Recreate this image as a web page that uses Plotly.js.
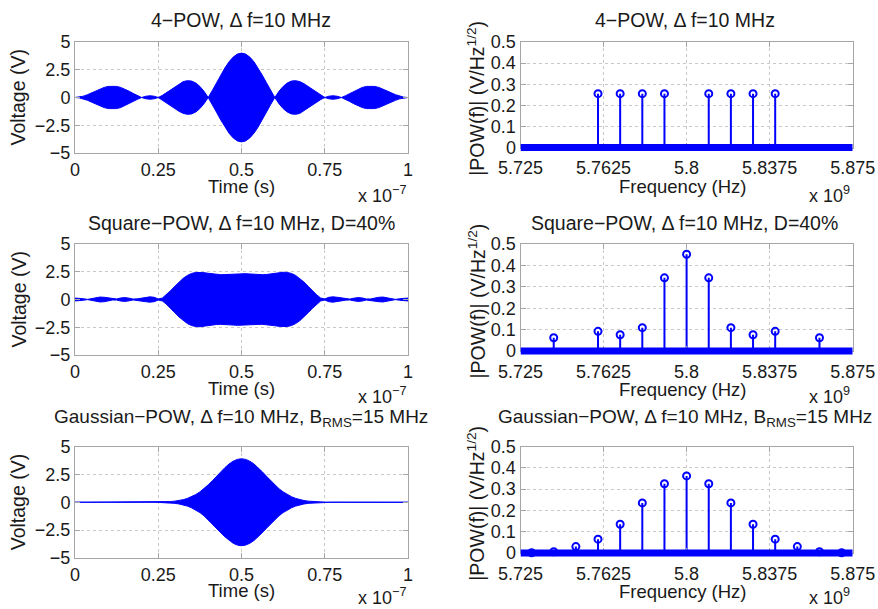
<!DOCTYPE html>
<html>
<head>
<meta charset="utf-8">
<script src="https://cdn.plot.ly/plotly-3.0.1.min.js"></script>
<style>html,body{margin:0;padding:0;background:#fff;}#chart{width:878px;height:609px;}</style>
</head>
<body>
<div id="chart"></div>
<script>
// ---------- DATA ----------
// time axis (units of 1e-7 s)
const timeAxis = [0,0.0125,0.025,0.0375,0.05,0.0625,0.075,0.0875,0.1,0.1125,0.125,0.1375,0.15,0.1625,0.175,0.1875,0.2,0.2125,0.225,0.2375,0.25,0.2625,0.275,0.2875,0.3,0.3125,0.325,0.3375,0.35,0.3625,0.375,0.3875,0.4,0.4125,0.425,0.4375,0.45,0.4625,0.475,0.4875,0.5,0.5125,0.525,0.5375,0.55,0.5625,0.575,0.5875,0.6,0.6125,0.625,0.6375,0.65,0.6625,0.675,0.6875,0.7,0.7125,0.725,0.7375,0.75,0.7625,0.775,0.7875,0.8,0.8125,0.825,0.8375,0.85,0.8625,0.875,0.8875,0.9,0.9125,0.925,0.9375,0.95,0.9625,0.975,0.9875,1];

// envelope (V) of the 4-POW waveform
const envFourPow = [0,0.031,0.119,0.254,0.421,0.600,0.769,0.908,1.000,1.033,1.000,0.904,0.755,0.567,0.363,0.166,0,0.113,0.156,0.118,0,0.192,0.440,0.719,1.000,1.248,1.431,1.516,1.481,1.311,1.000,0.557,0,0.640,1.326,2.014,2.657,3.212,3.639,3.908,4.000,3.908,3.639,3.212,2.657,2.014,1.326,0.640,0,0.557,1.000,1.311,1.481,1.516,1.431,1.248,1.000,0.719,0.440,0.192,0,0.118,0.156,0.113,0,0.166,0.363,0.567,0.755,0.904,1.000,1.033,1.000,0.908,0.769,0.600,0.421,0.254,0.119,0.031,0];

// envelope (V) of the Square-POW waveform
const envSquarePow = [0.13,0.12,0.07,0.01,0.08,0.17,0.22,0.20,0.14,0.05,0.05,0.14,0.17,0.12,0.04,0.06,0.13,0.20,0.24,0.20,0.05,0.134,0.441,0.808,1.199,1.578,1.911,2.172,2.348,2.438,2.455,2.421,2.362,2.300,2.255,2.236,2.244,2.270,2.303,2.329,2.339,2.329,2.303,2.270,2.244,2.236,2.255,2.300,2.362,2.421,2.455,2.438,2.348,2.172,1.911,1.578,1.199,0.808,0.441,0.134,0.05,0.20,0.24,0.20,0.13,0.06,0.04,0.12,0.17,0.14,0.05,0.05,0.14,0.20,0.22,0.17,0.08,0.01,0.07,0.12,0.13];

// envelope (V) of the Gaussian-POW waveform
const envGaussPow = [0,0,0,0,0,0,0,0,0,0,0,0,0,0,0,0,0,0.001,0.003,0.006,0.013,0.022,0.038,0.062,0.10,0.155,0.235,0.346,0.50,0.689,0.93,1.22,1.56,1.93,2.33,2.73,3.10,3.43,3.68,3.845,3.90,3.845,3.68,3.43,3.10,2.73,2.33,1.93,1.56,1.22,0.93,0.689,0.50,0.346,0.235,0.155,0.10,0.062,0.038,0.022,0.013,0.006,0.003,0.001,0,0,0,0,0,0,0,0,0,0,0,0,0,0,0,0,0];

// spectra (frequency in units of 1e9 Hz, magnitude in V/Hz^1/2)
const freqFourPow = [5.76,5.77,5.78,5.79,5.81,5.82,5.83,5.84];
const magFourPow  = [0.255,0.255,0.255,0.255,0.255,0.255,0.255,0.255];
const freqSquarePow = [5.74,5.76,5.77,5.78,5.79,5.80,5.81,5.82,5.83,5.84,5.86];
const magSquarePow  = [0.062,0.092,0.076,0.109,0.342,0.452,0.342,0.109,0.076,0.092,0.062];
const freqGaussPow = [5.73,5.74,5.75,5.76,5.77,5.78,5.79,5.80,5.81,5.82,5.83,5.84,5.85,5.86,5.87];
const magGaussPow  = [0.001,0.006,0.030,0.065,0.135,0.235,0.325,0.362,0.325,0.235,0.135,0.065,0.030,0.006,0.001];
const freqRange = [5.725, 5.875];
const baselineLevel = [0, 0];

// tick labels
const timeTicks = [0,0.25,0.5,0.75,1];
const timeTickText = ['0','0.25','0.5','0.75','1'];
const voltTicks = [-5,-2.5,0,2.5,5];
const voltTickText = ['\u22125','\u22122.5','0','2.5','5'];
const freqTicks = [5.725,5.7625,5.8,5.8375,5.875];
const freqTickText = ['5.725','5.7625','5.8','5.8375','5.875'];
const magTicks = [0,0.1,0.2,0.3,0.4,0.5];
const magTickText = ['0','0.1','0.2','0.3','0.4','0.5'];

const titles = [
  '4\u2212POW, \u0394 f=10 MHz',
  'Square\u2212POW, \u0394 f=10 MHz, D=40%',
  'Gaussian\u2212POW, \u0394 f=10 MHz, B<sub>RMS</sub>=15 MHz'
];

// ---------- LAYOUT HELPERS ----------
const W = 878, H = 609;
const BLUE = '#0000ff';
const FONT = 'Liberation Sans, Arial, Helvetica, sans-serif';
const TXT = '#1a1a1a';
const px2x = p => p / W;
const px2y = p => 1 - p / H;

const leftX = [75, 408];
const rightX = [520.5, 852.7];
const leftRows = [[42,153],[244,355],[446.5,558]];
const rightRows = [[42,147.5],[244,351],[446.5,553]];
const titleY = [20, 223, 418];
const titleSize = [19.5, 19.5, 19];
const leftXTitleY = [186, 388, 590];
const rightXTitleY = [187, 389, 591];
const expY = [194, 395, 596];
const ext = 6; // px the baseline layer extends below the box

const envs = [envFourPow, envSquarePow, envGaussPow];
const freqs = [freqFourPow, freqSquarePow, freqGaussPow];
const mags = [magFourPow, magSquarePow, magGaussPow];

const axisBase = {
  showline: true, mirror: 'allticks', linecolor: '#a6a6a6', linewidth: 1,
  ticks: 'inside', ticklen: 5, tickcolor: '#a6a6a6', tickwidth: 1,
  showgrid: true, gridcolor: '#c8c8c8', griddash: 'dot', gridwidth: 1,
  zeroline: false, fixedrange: true,
  tickfont: {family: FONT, size: 18, color: TXT}
};

const data = [];
const layout = {
  width: W, height: H,
  margin: {l: 0, r: 0, t: 0, b: 0},
  paper_bgcolor: '#fff', plot_bgcolor: 'rgba(0,0,0,0)',
  showlegend: false,
  font: {family: FONT, size: 18, color: TXT},
  annotations: []
};

function note(x, y, text, size, xanchor, angle) {
  layout.annotations.push({
    xref: 'paper', yref: 'paper', x: px2x(x), y: px2y(y),
    xanchor: xanchor || 'center', yanchor: 'middle', showarrow: false,
    textangle: angle || 0,
    text: text, font: {family: FONT, size: size, color: TXT}
  });
}

for (let i = 0; i < 3; i++) {
  const nL = 2 * i + 1, nR = 2 * i + 2, nO = 7 + i;
  const lr = leftRows[i], rr = rightRows[i];

  // ----- left: time-domain waveform (filled envelope of the carrier)
  layout['xaxis' + nL] = Object.assign({}, axisBase, {
    domain: [px2x(leftX[0]), px2x(leftX[1])], anchor: 'y' + nL,
    range: [0, 1], tickvals: timeTicks, ticktext: timeTickText
  });
  layout['yaxis' + nL] = Object.assign({}, axisBase, {
    domain: [px2y(lr[1]), px2y(lr[0])], anchor: 'x' + nL,
    range: [-5, 5], tickvals: voltTicks, ticktext: voltTickText
  });
  const env = envs[i];
  const xs = timeAxis.concat(timeAxis.slice().reverse());
  const ys = env.concat(env.map(v => -v).reverse());
  data.push({
    type: 'scatter', mode: 'lines', x: xs, y: ys,
    xaxis: 'x' + nL, yaxis: 'y' + nL,
    fill: 'toself', fillcolor: BLUE,
    line: {color: BLUE, width: 1}, hoverinfo: 'skip'
  });

  // ----- right: spectrum stem plot
  layout['xaxis' + nR] = Object.assign({}, axisBase, {
    domain: [px2x(rightX[0]), px2x(rightX[1])], anchor: 'y' + nR,
    range: freqRange, tickvals: freqTicks, ticktext: freqTickText,
    ticklabelstandoff: 4
  });
  layout['yaxis' + nR] = Object.assign({}, axisBase, {
    domain: [px2y(rr[1]), px2y(rr[0])], anchor: 'x' + nR,
    range: [0, 0.5], tickvals: magTicks, ticktext: magTickText
  });
  // stems
  const sx = [], sy = [];
  freqs[i].forEach((f, k) => { sx.push(f, f, null); sy.push(0, mags[i][k], null); });
  data.push({
    type: 'scatter', mode: 'lines', x: sx, y: sy,
    xaxis: 'x' + nR, yaxis: 'y' + nR,
    line: {color: BLUE, width: 2}, hoverinfo: 'skip'
  });
  data.push({
    type: 'scatter', mode: 'markers', x: freqs[i], y: mags[i],
    xaxis: 'x' + nR, yaxis: 'y' + nR, cliponaxis: false,
    marker: {symbol: 'circle-open', size: 7, color: BLUE, line: {width: 2, color: BLUE}},
    hoverinfo: 'skip'
  });
  // thick baseline (zero-valued stems), on a layer extended below the box so it is not cut
  const hMain = rr[1] - rr[0];
  layout['xaxis' + nO] = {
    domain: [px2x(rightX[0]), px2x(rightX[1])], anchor: 'y' + nO,
    range: freqRange, visible: false, fixedrange: true
  };
  layout['yaxis' + nO] = {
    domain: [px2y(rr[1] + ext), px2y(rr[0])], anchor: 'x' + nO,
    range: [-0.5 * ext / hMain, 0.5], visible: false, fixedrange: true
  };
  data.push({
    type: 'scatter', mode: 'lines', x: freqRange, y: baselineLevel,
    xaxis: 'x' + nO, yaxis: 'y' + nO,
    line: {color: BLUE, width: 7}, hoverinfo: 'skip'
  });

  // titles, axis labels, exponent labels
  note((leftX[0] + leftX[1]) / 2, titleY[i], titles[i], titleSize[i]);
  note((rightX[0] + rightX[1]) / 2 - 2, titleY[i], titles[i], titleSize[i]);
  note((leftX[0] + leftX[1]) / 2, leftXTitleY[i], 'Time (s)', 18.5);
  note((rightX[0] + rightX[1]) / 2 - 4, rightXTitleY[i], 'Frequency (Hz)', 18.5);
  note(18, (lr[0] + lr[1]) / 2, 'Voltage (V)', 19.5, 'center', -90);
  note(476, (rr[0] + rr[1]) / 2 + 4, '|POW(f)| (V/Hz<sup>1/2</sup>)', 19.5, 'center', -90);
  note(408, expY[i], 'x 10<sup>\u22127</sup>', 18, 'right');
  note(852, expY[i], 'x 10<sup>9</sup>', 18, 'right');
}

Plotly.newPlot('chart', data, layout, {staticPlot: true, displayModeBar: false});
</script>
</body>
</html>
